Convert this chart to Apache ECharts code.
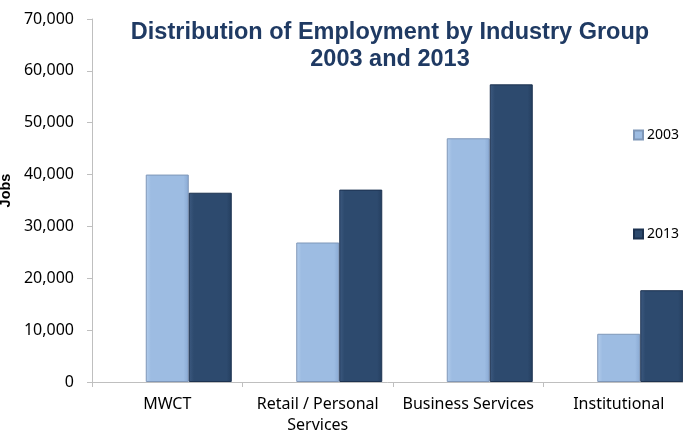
<!DOCTYPE html>
<html>
<head>
<meta charset="utf-8">
<script src="https://cdn.jsdelivr.net/npm/echarts@6/dist/echarts.min.js"></script>
<style>
  html, body { margin: 0; padding: 0; background: #fff; }
  #chart { width: 683px; height: 435px; }
</style>
</head>
<body>
<div id="chart"></div>
<script>
// data
var categories = ['MWCT', 'Retail / Personal\nServices', 'Business Services', 'Institutional'];
var jobs2003 = [40000, 26900, 47000, 9300];
var jobs2013 = [36500, 37100, 57400, 17700];
// empty slot so the pair of bars sits right of the category centre, like the original
var spacer = [null, null, null, null];
var yTicks = { min: 0, max: 70000, interval: 10000 };

var colors = {
  light: ['#b3cdec', '#9dbce2', '#89a9d3', '#7f97b8'],
  dark: ['#3d5a80', '#2d4a6e', '#243e5f', '#1c3250']
};

function barStyle(c) {
  return {
    color: new echarts.graphic.LinearGradient(0, 0, 1, 0, [
      { offset: 0, color: c[0] },
      { offset: 0.12, color: c[1] },
      { offset: 0.88, color: c[1] },
      { offset: 1, color: c[2] }
    ]),
    borderColor: c[3],
    borderWidth: 1
  };
}

var myChart = echarts.init(document.getElementById('chart'));
var option = {
  animation: false,
  title: {
    text: 'Distribution of Employment by Industry Group\n2003 and 2013',
    left: 385,
    top: 14,
    textAlign: 'center',
    textStyle: {
      fontFamily: 'Liberation Sans',
      fontWeight: 'bold',
      fontSize: 23.5,
      lineHeight: 27,
      color: '#1f3a63'
    }
  },
  legend: {
    orient: 'vertical',
    left: 628,
    top: 123,
    itemGap: 85,
    itemWidth: 9,
    itemHeight: 9,
    icon: 'rect',
    data: ['2003', '2013'],
    textStyle: { fontFamily: 'Noto Sans', fontSize: 14, color: '#000', padding: [0, 0, 0, -1] }
  },
  grid: {
    left: 92,
    right: -11,
    top: 19,
    bottom: 53,
    outerBoundsMode: 'none'
  },
  xAxis: {
    type: 'category',
    data: categories,
    axisLine: { lineStyle: { color: '#bfbfbf' } },
    axisTick: { show: true, length: 5, lineStyle: { color: '#bfbfbf' } },
    axisLabel: {
      fontFamily: 'Noto Sans',
      fontSize: 16,
      lineHeight: 21,
      color: '#000',
      margin: 12,
      interval: 0
    }
  },
  yAxis: {
    type: 'value',
    min: yTicks.min,
    max: yTicks.max,
    interval: yTicks.interval,
    name: 'Jobs',
    nameLocation: 'middle',
    nameGap: 78,
    nameRotate: 90,
    nameTextStyle: {
      fontFamily: 'Liberation Sans',
      fontWeight: 'bold',
      fontSize: 14.5,
      color: '#000',
      padding: [0, 0, 0, 20]
    },
    axisLine: { show: true, lineStyle: { color: '#bfbfbf' } },
    axisTick: { show: true, length: 5, lineStyle: { color: '#bfbfbf' } },
    splitLine: { show: false },
    axisLabel: {
      fontFamily: 'Noto Sans',
      fontSize: 16,
      color: '#000',
      margin: 18,
      formatter: function (v) { return v.toLocaleString('en-US'); }
    }
  },
  series: [
    {
      name: 'spacer',
      type: 'bar',
      data: spacer,
      barWidth: 43,
      barGap: '0%',
      silent: true
    },
    {
      name: '2003',
      type: 'bar',
      data: jobs2003,
      barWidth: 43,
      barGap: '0%',
      itemStyle: barStyle(colors.light)
    },
    {
      name: '2013',
      type: 'bar',
      data: jobs2013,
      barWidth: 43,
      barGap: '0%',
      itemStyle: barStyle(colors.dark)
    }
  ]
};
myChart.setOption(option);
window.addEventListener('resize', function () {
  myChart.resize();
});
</script>
</body>
</html>
